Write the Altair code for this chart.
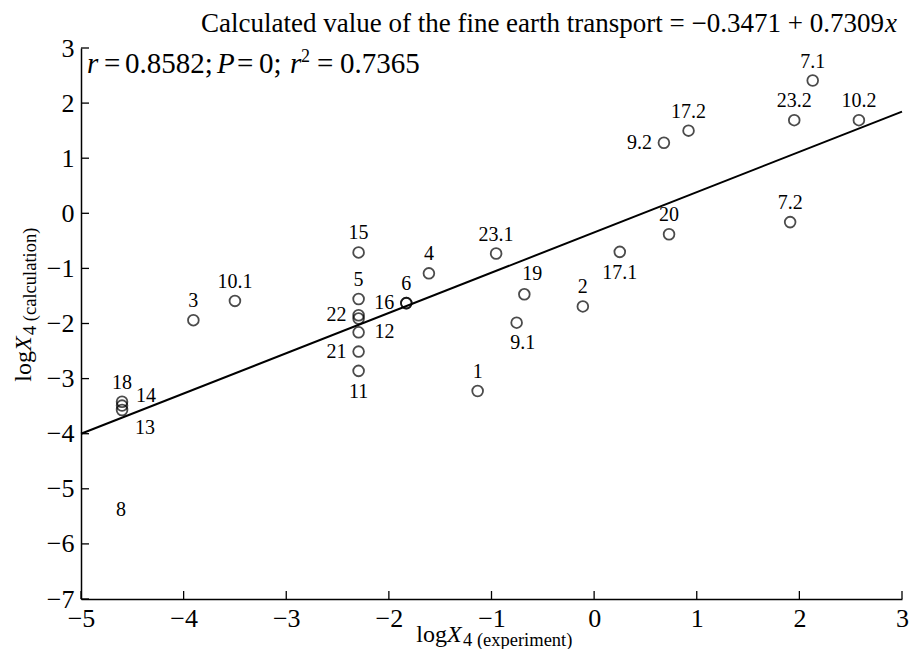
import altair as alt
import pandas as pd

# ---------------- data ----------------
labels = ["1", "2", "3", "4", "5", "6", "16", "7.1", "7.2", "9.1", "9.2", "10.1", "10.2",
          "11", "12", "13", "14", "15", "17.1", "17.2", "18", "19", "20", "21", "22", "",
          "23.1", "23.2"]
x_exp = [-1.135, -0.11, -3.905, -1.61, -2.295, -1.83, -1.83, 2.13, 1.91, -0.755, 0.68, -3.50, 2.58,
         -2.295, -2.295, -4.60, -4.60, -2.295, 0.25, 0.92, -4.60, -0.68, 0.73, -2.295, -2.295, -2.295,
         -0.955, 1.95]
y_calc = [-3.225, -1.69, -1.94, -1.09, -1.555, -1.63, -1.63, 2.41, -0.16, -1.985, 1.28, -1.59, 1.69,
          -2.86, -2.16, -3.57, -3.49, -0.71, -0.70, 1.50, -3.42, -1.47, -0.38, -2.51, -1.85, -1.91,
          -0.73, 1.69]
label_side = ["above", "above", "above", "above", "above", "above", "left", "above", "above", "belowright",
              "left", "above", "above", "below", "right", "rightdown", "rightup", "above", "below", "above",
              "above", "aboveright", "above", "left", "left", "left", "above", "above"]

orphan_labels = ["8"]
orphan_x = [-4.61]
orphan_y = [-5.38]

intercept = -0.3471
slope = 0.7309
x_ticks = [-5, -4, -3, -2, -1, 0, 1, 2, 3]
y_ticks = [-7, -6, -5, -4, -3, -2, -1, 0, 1, 2, 3]

title_main = "Calculated value of the fine earth transport = \u22120.3471 + 0.7309"
title_var = "x"

# statistics text tokens: (text, italic, left offset in px from the plot's left edge)
stat_tokens = [("r", True, 6), ("=", False, 23), ("0.8582;", False, 44), ("P", True, 136),
               ("=", False, 156), ("0;", False, 178), ("r", True, 209), ("2", False, 220),
               ("=", False, 236), ("0.7365", False, 259)]

# ---------------- layout ----------------
W, H = 821, 551
FONT = "Liberation Serif"
TICK_FS = 26
LBL_FS = 20
NB = "\u00a0"

xs = alt.Scale(domain=[-5, 3], nice=False, zero=False)
ys = alt.Scale(domain=[-7, 3], nice=False, zero=False)

pts = pd.DataFrame({"x": x_exp, "y": y_calc, "label": labels, "side": label_side})

x_axis = alt.Axis(values=x_ticks, ticks=False, grid=False, title=None, labelFont=FONT,
                  labelFontSize=TICK_FS, labelColor="black", labelPadding=6, domainColor="black",
                  domainWidth=1.5, format="d", labelFlush=False)
y_axis = alt.Axis(values=y_ticks, ticks=False, grid=False, title=None, labelFont=FONT,
                  labelFontSize=TICK_FS, labelColor="black", labelPadding=7, domainColor="black",
                  domainWidth=1.5, format="d", labelFlush=False)

points = alt.Chart(pts).mark_point(shape="circle", filled=False, color="black", size=115,
                                   strokeWidth=1.8).encode(
    x=alt.X("x:Q", scale=xs, axis=x_axis),
    y=alt.Y("y:Q", scale=ys, axis=y_axis),
)

sides = {
    "above": (0, -19, "center"),
    "below": (0, 21, "center"),
    "left": (-12, 0, "right"),
    "right": (16, 0, "left"),
    "aboveright": (8, -20, "center"),
    "belowright": (6, 20, "center"),
    "rightup": (24, -10, "center"),
    "rightdown": (23, 18, "center"),
}
label_layers = []
for s, (dx, dy, al) in sides.items():
    label_layers.append(
        alt.Chart(pts).transform_filter(alt.datum.side == s).mark_text(
            font=FONT, fontSize=LBL_FS, color="black", dx=dx, dy=dy, align=al, baseline="middle"
        ).encode(x=alt.X("x:Q", scale=xs), y=alt.Y("y:Q", scale=ys), text="label:N")
    )

orphans = alt.Chart(pd.DataFrame({"x": orphan_x, "y": orphan_y, "label": orphan_labels})).mark_text(
    font=FONT, fontSize=LBL_FS, color="black", baseline="middle"
).encode(x=alt.X("x:Q", scale=xs), y=alt.Y("y:Q", scale=ys), text="label:N")

line = alt.Chart(pd.DataFrame({"x": [x_ticks[0], x_ticks[-1]]})).transform_calculate(
    y=f"{intercept} + {slope} * datum.x"
).mark_line(color="black", strokeWidth=2).encode(
    x=alt.X("x:Q", scale=xs), y=alt.Y("y:Q", scale=ys)
)

ytick_rules = alt.Chart(pd.DataFrame({"v": y_ticks})).mark_rule(color="black", strokeWidth=1.3).encode(
    y=alt.Y("v:Q", scale=ys), x=alt.value(0), x2=alt.value(8)
)
xtick_rules = alt.Chart(pd.DataFrame({"v": x_ticks})).mark_rule(color="black", strokeWidth=1.3).encode(
    x=alt.X("v:Q", scale=xs), y=alt.value(H), y2=alt.value(H - 8)
)


def txt(s, x, y, size, italic=False, align="left", baseline="alphabetic", angle=0):
    kw = dict(font=FONT, fontSize=size, color="black", align=align, baseline=baseline)
    if italic:
        kw["fontStyle"] = "italic"
    if angle:
        kw["angle"] = angle
    return alt.Chart(pd.DataFrame({"t": [s]})).mark_text(**kw).encode(
        x=alt.value(x), y=alt.value(y), text="t:N"
    )


# chart title
TFS = 27
TP = 803
title_layers = [
    txt(title_main, TP, -16, TFS, align="right"),
    txt(title_var, TP + 1, -16, TFS, italic=True),
]

# statistics line
AY = 25
FS = 29
stat_layers = []
for s, it, px in stat_tokens:
    if s == "2":
        stat_layers.append(txt(s, px, AY - 11, 18))
    else:
        stat_layers.append(txt(s, px, AY, FS, italic=it))

# x axis title
XP = 366
xtitle = [
    txt("log", XP, H + 43, 24, align="right"),
    txt("X", XP, H + 43, 24, italic=True),
    txt("4" + NB + "(experiment)", XP + 16, H + 47, 18.5),
]
# y axis title (rotated)
YP = 303
YX = -50
ytitle = [
    txt("log", YX, YP, 24, align="right", angle=270),
    txt("X", YX, YP, 24, italic=True, angle=270),
    txt("4" + NB + "(calculation)", YX + 5, YP - 16, 18.5, angle=270),
]

chart = alt.layer(
    line, ytick_rules, xtick_rules, points, *label_layers, orphans,
    *title_layers, *stat_layers, *xtitle, *ytitle
).properties(
    width=W, height=H,
    autosize=alt.AutoSizeParams(type="none"),
    padding={"left": 73, "top": 40, "right": 7, "bottom": 50},
).configure_view(stroke="transparent")

chart.save("out.html", embed_options={"renderer": "svg", "actions": False})
